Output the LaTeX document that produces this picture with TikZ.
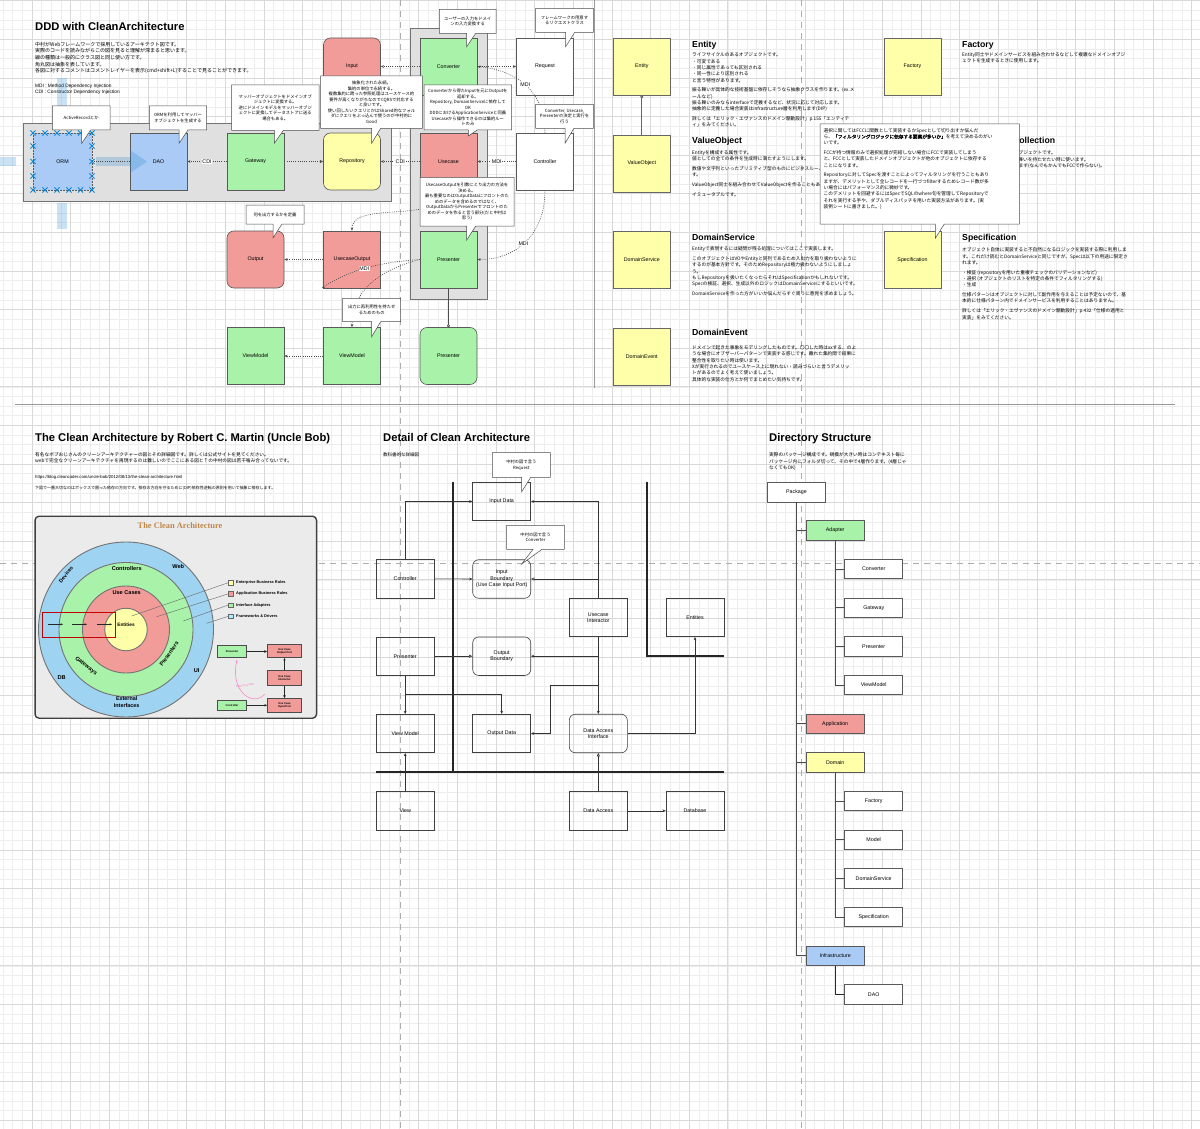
\documentclass[tikz,border=0pt]{standalone}
\usepackage{fontspec}
\setmainfont{Liberation Sans}
\newfontfamily\jp{Noto Sans CJK JP}
\newfontfamily\jpb{Noto Sans CJK JP}[FakeBold=1.6]
\newfontfamily\serifcl{Liberation Serif}
\usetikzlibrary{arrows.meta}

\definecolor{cred}{HTML}{F19C99}
\definecolor{cgreen}{HTML}{A9F2A9}
\definecolor{cyellow}{HTML}{FFFFAA}
\definecolor{cblue}{HTML}{A9CBF5}
\definecolor{cgrey}{HTML}{E0E0E0}
\definecolor{ctitle}{HTML}{C0874A}
\definecolor{cring}{HTML}{9FD3F2}
\definecolor{ccyan}{HTML}{A8EEFF}

\newcommand{\introjp}{\jp\fontsize{5}{6.6}\selectfont}
\newcommand{\bodyjp}{\jp\fontsize{4.7}{6.3}\selectfont}
\newcommand{\calljp}{\jp\fontsize{4.3}{5.5}\selectfont}
\newcommand{\lbl}{\fontsize{5.3}{6.3}\selectfont}
\newcommand{\headf}{\bfseries\fontsize{8.7}{10}\selectfont}
\newcommand{\titlef}{\bfseries\fontsize{11.2}{13}\selectfont}

\tikzset{
  gridmin/.style={draw=black!7, line width=0.4pt},
  gridmaj/.style={draw=black!15, line width=0.5pt},
  pagebrk/.style={draw=black!32, line width=1pt, dash pattern=on 6pt off 5pt},
  box/.style={draw=black!65, line width=0.6pt, minimum width=57pt, minimum height=57pt, inner sep=1pt, font=\lbl},
  rbox/.style={box, rounded corners=7pt},
  dbox/.style={box, draw=black!75, minimum width=58pt, minimum height=38.5pt},
  tbox/.style={box, minimum width=58pt, minimum height=19.3pt},
  dep/.style={draw=black!70, line width=0.6pt, dash pattern=on 0.9pt off 1.3pt, -{Stealth[length=3.2pt,width=2.6pt]}},
  depi/.style={dep, -{Triangle[open,length=3.4pt,width=3.2pt]}},
  flow/.style={draw=black!80, line width=0.6pt, -{Stealth[length=3.2pt,width=2.8pt]}},
  flowi/.style={flow, -{Triangle[open,length=3.4pt,width=3.2pt]}},
  lab/.style={fill=white, inner sep=0.6pt, font=\lbl},
  callout/.style={draw=black!70, fill=white, line width=0.5pt},
  calltext/.style={font=\calljp, align=center, inner sep=0pt},
  txt/.style={anchor=north west, align=left, inner sep=0pt},
  head/.style={anchor=base west, inner sep=0pt, font=\headf},
  thickbar/.style={draw=black!85, line width=1.7pt},
  tree/.style={draw=black!70, line width=0.7pt},
  hover/.style={fill=cyan!60!blue, opacity=0.22},
  ring/.style={circle, draw=black!55, line width=0.9pt},
  ringlbl/.style={font=\bfseries\fontsize{5.6}{6.5}\selectfont},
  legend/.style={anchor=west, inner sep=0pt, font=\bfseries\fontsize{3.9}{4.5}\selectfont},
  mini/.style={draw=black!70, line width=0.5pt, inner sep=0.5pt, align=center, font=\bfseries\fontsize{2.7}{3.1}\selectfont},
}

% speech bubble: name, x1, y1, x2, y2, tail base x, tip x, tip y, text
\newcommand{\callout}[9]{%
  \draw[callout] (#2,#3) -- (#4,#3) -- (#4,#5) -- ({#6+9},#5) -- (#7,#8) -- (#6,#5) -- (#2,#5) -- cycle;
  \node[calltext] (#1) at ({(#2+#4)/2},{(#3+#5)/2}) {#9};}

\begin{document}
\begin{tikzpicture}[x=1pt,y=-1pt]
\useasboundingbox (0,0) rectangle (1200,1129);
\fill[white] (0,0) rectangle (1200,1129);

% grid
\foreach \i in {0,...,125}
  \draw[gridmin] ({-6.65+9.6625*\i},0) -- ++(0,1129);
\foreach \j in {0,...,117}
  \draw[gridmin] (0,{0.7+9.65*\j}) -- ++(1200,0);
\foreach \i in {0,...,31}
  \draw[gridmaj] ({-6.65+38.65*\i},0) -- ++(0,1129);
\foreach \j in {0,...,29}
  \draw[gridmaj] (0,{0.7+38.6*\j}) -- ++(1200,0);

% page breaks and separators
\draw[pagebrk] (400.3,0) -- (400.3,1129);
\draw[pagebrk] (801,0) -- (801,1129);
\draw[pagebrk] (0,563.3) -- (1200,563.3);
\draw[draw=black!40, line width=0.8pt] (15,404) -- (1175,404);
\draw[draw=black!40, line width=0.8pt] (594,0) -- (594,388);

%%%%%%%%%%%%%%%% DDD with CleanArchitecture
\node[anchor=base west, inner sep=0pt, font=\titlef] (ddtitle) at (35,30.5) {DDD with CleanArchitecture};
\node[txt, font=\introjp] (intro) at (35,41.8) {中村がWebフレームワークで採用しているアーキテクト図です。\\
実際のコードを読みながらこの図を見ると理解が深まると思います。\\
線の種類は一般的にクラス図と同じ使い方です。\\
角丸図は抽象を表しています。\\
各図に対するコメントはコメントレイヤーを表示(cmd+shift+L)することで見ることができます。};
\node[txt, font=\fontsize{4.8}{5.8}\selectfont] (mdicdi) at (35,83.6) {MDI : Method Dependency Injection\\CDI : Constructor Dependency Injection};

% containers
\draw[draw=black!55, fill=cgrey, line width=0.6pt] (23.5,123.5) rectangle (391.5,201);
\draw[draw=black!55, fill=cgrey, line width=0.6pt] (410,28) rectangle (487,299);

% hover arrows around ORM
\fill[hover] (0,156.8) rectangle (16,166.4);
\fill[hover] (96,156.8) rectangle (130,166.4);
\fill[hover] (56.8,78) rectangle (66.6,130);
\fill[hover] (56.8,203) rectangle (66.6,229);

% boxes
\node[box, fill=cblue, dash pattern=on 2pt off 1pt, minimum width=59pt] (ORM) at (62.5,161.5) {ORM};
\node[box, fill=cblue] (DAO) at (158.5,161.5) {DAO};
\node[box, fill=cgreen] (Gateway) at (255.5,161.5) {Gateway};
\node[rbox, fill=cyellow] (Repository) at (352,161.5) {Repository};
\node[rbox, fill=cred] (Input) at (352,66.5) {Input};
\node[box, fill=cgreen] (Converter) at (448.5,66.5) {Converter};
\node[box, fill=white] (Request) at (545,66.5) {Request};
\node[box, fill=cred] (Usecase) at (448.5,161.5) {Usecase};
\node[box, fill=white] (Controller) at (545,161.5) {Controller};
\node[rbox, fill=cred] (Output) at (255.5,259.5) {Output};
\node[box, fill=cred] (UsecaseOutput) at (352,259.5) {UsecaseOutput};
\node[box, fill=cgreen] (Presenter) at (448.5,259.5) {Presenter};
\node[box, fill=cgreen] (ViewModel) at (255.5,356) {ViewModel};
\node[box, fill=cgreen] (ViewModelB) at (352,356) {ViewModel};
\node[rbox, fill=cgreen] (PresenterR) at (448.5,356) {Presenter};

\fill[hover] (130,150) -- (147,161.6) -- (130,173) -- cycle;
\foreach \xx in {33,45,57,69,80.5,92} {
  \draw[cyan!70!blue, line width=0.8pt] (\xx,133) +(-2.6,-2.6) -- +(2.6,2.6) +(-2.6,2.6) -- +(2.6,-2.6);
  \draw[cyan!70!blue, line width=0.8pt] (\xx,190) +(-2.6,-2.6) -- +(2.6,2.6) +(-2.6,2.6) -- +(2.6,-2.6);
}
\foreach \yy in {146,161.5,176} {
  \draw[cyan!70!blue, line width=0.8pt] (33,\yy) +(-2.6,-2.6) -- +(2.6,2.6) +(-2.6,2.6) -- +(2.6,-2.6);
  \draw[cyan!70!blue, line width=0.8pt] (92,\yy) +(-2.6,-2.6) -- +(2.6,2.6) +(-2.6,2.6) -- +(2.6,-2.6);
}

% connectors
\draw[dep, -] (DAO.west) -- (ORM.east);
\draw[dep] (Gateway.west) -- node[lab] (cdiA) {CDI} (DAO.east);
\draw[depi] (Gateway.east) -- (Repository.west);
\draw[dep] (Usecase.west) -- node[lab] (cdiB) {CDI} (Repository.east);
\draw[dep] (Converter.west) -- (Input.east);
\draw[dep] (Converter.east) -- (Request.west);
\draw[dep] (Controller.north) .. controls (545,90) and (515,70) .. node[lab, pos=0.5] (mdiA) {MDI} (Converter.east);
\draw[dep] (Controller.west) -- node[lab] (mdiB) {MDI} (Usecase.east);
\draw[dep] (Controller.south) .. controls (545,240) and (510,260) .. node[lab, pos=0.5] (mdiC) {MDI} (Presenter.east);
\draw[dep] (Usecase.south) .. controls (440,225) and (352,200) .. (UsecaseOutput.north);
\draw[dep] (UsecaseOutput.west) -- (Output.east);
\draw[dep] (Presenter.west) .. controls (385,262) and (352,268) .. node[lab, pos=0.55] (mdiD) {MDI} (322,288);
\draw[dep] (Presenter.west) .. controls (380,270) and (352,290) .. (ViewModelB.north);
\draw[dep] (ViewModelB.west) -- (ViewModel.east);
\draw[draw=black!70, line width=0.6pt, -{Circle[open,length=3pt]}] (Presenter.south) -- (PresenterR.north);

% callouts
\callout{cActive}{52.3}{106}{110}{130}{81.7}{81.7}{143.3}{ActiveRecordとか}
\callout{cOrm}{149.3}{106}{206.7}{130}{179}{179}{143.3}{ORMを利用してマッパー\\オブジェクトを生成する}
\callout{cMapper}{231.5}{85}{319}{130.5}{274.3}{274.3}{143.3}{マッパーオブジェクトをドメインオブ\\ジェクトに変換する。\\逆にドメインモデルをマッパーオブジ\\ェクトに変換してデータストアに送る\\場合もある。}
\callout{cRepo}{320.7}{76}{422.3}{128.3}{371.7}{371.7}{143.3}{抽象化された永続。\\集約の単位で永続する。\\複数集約に跨った参照処理はユースケース的\\要件が高くなりがちなのでCQRSで対応する\\と良いです。\\使い回したいクエリとかはShared的なフォル\\ダにクエリをぶっ込んで使うのが中村的に\\Good}
\callout{cUsecase}{424}{85}{511.7}{130}{468.3}{468.3}{136}{Converterから得たInputを元にOutputを\\返却する。\\Repository, DomainServiceに依存して\\OK\\DDDにおけるApplicationServiceと同義\\Usecaseから操作できるのは集約ルー\\トのみ}
\callout{cConv}{439.3}{9.3}{496}{33.3}{466.7}{466.7}{46.7}{ユーザーの入力をドメイ\\ンの入力変換する}
\callout{cReq}{535.7}{8.3}{593.3}{32.3}{565.7}{565.7}{46.7}{フレームワークの用意す\\るリクエストクラス}
\callout{cCtrl}{535.7}{104.3}{593.3}{128.3}{565}{565}{143.3}{Converter, Usecase,\\Presenterの決定と実行を\\行う}
\callout{cOut}{246}{205}{304}{224}{273}{273}{238}{何を出力するかを定義}
\callout{cPres}{420}{177.3}{514}{226}{466.7}{466.7}{240}{UsecaseOutputを引数にとり出力の方法を\\決める。\\最も重要なのはOutputDataにフロントのた\\めのデータを含めるのではなく、\\OutputDataからPresenterでフロントのた\\めのデータを作ると言う部分(だと中村は\\思う)}
\callout{cVm}{342.7}{298.3}{400.7}{321.7}{371.7}{371.7}{336.7}{出力に再利用性を持たせ\\るためのもの}

%%%%%%%%%%%%%%%% building blocks
\node[box, fill=cyellow, draw=black!60] (Entity) at (641.8,66.5) {Entity};
\node[box, fill=cyellow, draw=black!60] (ValueObject) at (641.8,163.5) {ValueObject};
\node[box, fill=cyellow, draw=black!60] (DomainService) at (641.8,260) {DomainService};
\node[box, fill=cyellow, draw=black!60] (DomainEvent) at (641.8,356.5) {DomainEvent};
\node[box, fill=cyellow, draw=black!60] (Factory) at (912.5,66.5) {Factory};
\node[box, fill=cyellow, draw=black!60] (Specification) at (912.5,260) {Specification};
\draw[draw=black!60, line width=0.8pt, {Circle[open,length=3pt]}-] (Entity.south) -- (ValueObject.north);

\node[head] (hEntity) at (692,47.3) {Entity};
\node[txt, font=\bodyjp] (tEntity) at (692,52.6) {ライフサイクルのあるオブジェクトです。\\
・可変である\\
・同じ属性であっても区別される\\
・同一性により区別される\\
と言う特性があります。\\[3.5pt]
振る舞いが具体的な技術基盤に依存しそうなら抽象クラスを作ります。(ex.メ\\
ールなど)\\
振る舞いのみならinterfaceで定義するなど、状況に応じて対応します。\\
抽象的に定義した場合実装はinfrastructure層を利用します(DIP)\\[3.5pt]
詳しくは「エリック・エヴァンスのドメイン駆動設計」p.155「エンティテ\\
ィ」をみてください。};

\node[head] (hVO) at (692,143.3) {ValueObject};
\node[txt, font=\bodyjp] (tVO) at (692,150.4) {Entityを構成する属性です。\\
値としての全ての条件を生成時に満たすようにします。\\[3.5pt]
数値や文字列といったプリミティブ型のものにビジネスルールや制約を持たせま\\
す。\\[3.5pt]
ValueObject同士を組み合わせてValueObjectを作ることもあります。\\[3.5pt]
イミュータブルです。};

\node[head] (hDS) at (692,240) {DomainService};
\node[txt, font=\bodyjp] (tDS) at (692,246.4) {Entityで表現するには疑問が残る処理についてはここで実装します。\\[3.5pt]
このオブジェクトはVOやEntityと同列であるため入出力を取り扱わないように\\
するのが基本方針です。そのためRepositoryは極力扱わないようにしましょ\\
う。\\
もしRepositoryを扱いたくなったらそれはSpecificationかもしれないです。\\
Specの検証、選択、生成以外のロジックはDomainServiceにするといいです。\\[3.5pt]
DomainServiceを作った方がいいか悩んだらすぐ周りに意見を求めましょう。};

\node[head] (hDE) at (692,335.7) {DomainEvent};
\node[txt, font=\bodyjp] (tDE) at (692,345.4) {ドメインで起きた事象をモデリングしたものです。〇〇した時はxxする、のよ\\
うな場合にオブザーバーパターンで実装する感じです。離れた集約間で結果に\\
整合性を取りたい時は使います。\\
Xが実行されるのでユースケース上に現れない・読みづらいと言うデメリッ\\
トがあるのでよく考えて使いましょう。\\
具体的な実装の仕方とか何でまとめたい気持ちです。};

\node[head] (hFac) at (962,47.3) {Factory};
\node[txt, font=\bodyjp] (tFac) at (962,52.2) {Entity同士やドメインサービスを組み合わせるなどして複雑なドメインオブジ\\
ェクトを生成するときに使用します。};

\node[head] (hFcc) at (966,143.3) {First Class Collection};
\node[txt, font=\bodyjp] (tFcc) at (962,150.5) {コレクションを表現するオブジェクトです。\\
コレクションに対して振る舞いを持たせたい時に使います。\\
必要に応じて選択肢に入ります(なんでもかんでもFCCで作らない)。};

\node[head] (hSpec) at (962,240) {Specification};
\node[txt, font=\bodyjp] (tSpec) at (962,247.6) {オブジェクト自体に実装すると不自然になるロジックを実装する際に利用しま\\
す。これだけ読むとDomainServiceと同じですが、Specは以下の用途に限定さ\\
れます。\\[3.5pt]
・検証 (repositoryを用いた重複チェックのバリデーションなど)\\
・選択 (オブジェクトのリストを特定の条件でフィルタリングする)\\
・生成\\[3.5pt]
仕様パターンはオブジェクトに対して副作用を与えることは予定ないので、基\\
本的に仕様パターン内でドメインサービスを利用することはありません。\\[3.5pt]
詳しくは「エリック・エヴァンスのドメイン駆動設計」p.432「仕様の適用と\\
実装」をみてください。};

\draw[callout] (820,124) -- (1019.3,124) -- (1019.3,224) -- (944.3,224) -- (935.3,238.3) -- (935.3,224) -- (820,224) -- cycle;
\node[txt, font=\bodyjp] (cSpec) at (823.5,128) {選択に関してはFCCに関数として実装するかSpecとして切り出すか悩んだ\\
ら、{\jpb「フィルタリングロジックに依存する要素が多いか」}を考えて決めるのがい\\
いです。\\[3.5pt]
FCCが持つ情報のみで選択処理が完結しない場合にFCCで実装してしまう\\
と、FCCとして実装したドメインオブジェクトが他のオブジェクトに依存する\\
ことになります。\\[3.5pt]
Repositoryに対してSpecを渡すことによってフィルタリングを行うこともあり\\
ますが、デメリットとして全レコードを一行づつfilterするためレコード数が多\\
い場合にはパフォーマンス的に微妙です。\\
このデメリットを回避するにはSpecでSQLのwhere句を管理してRepositoryで\\
それを実行する手や、ダブルディスパッチを用いた実装方法があります。(実\\
装例シートに書きました。)};

%%%%%%%%%%%%%%%% The Clean Architecture
\node[anchor=base west, inner sep=0pt, font=\titlef] (catitle) at (35,441.5) {The Clean Architecture by Robert C. Martin (Uncle Bob)};
\node[txt, font=\bodyjp] (catext) at (35,452.3) {有名なボブおじさんのクリーンアーキテクチャーの図とその詳細図です。詳しくは公式サイトを見てください。\\
webで完全なクリーンアーキテクチャを再現するのは難しいのでここにある図と↑の中村の図は若干噛み合ってないです。};
\node[txt, font=\fontsize{4.3}{5}\selectfont] (caurl) at (35,474.8) {https://blog.cleancoder.com/uncle-bob/2012/08/13/the-clean-architecture.html};
\node[txt, font=\jp\fontsize{4}{5}\selectfont] (canote) at (35,486) {下図で一番大切なのはボックスで囲った依存の方向です。依存の方向を守るために(DIP)依存性逆転の原則を用いて抽象に依存します。};

\node[draw=black!75, line width=1.4pt, rounded corners=4pt, fill=black!8, minimum width=281.5pt, minimum height=202pt, inner sep=0pt] (caimg) at (175.8,617.2) {};
\node[font=\serifcl\bfseries\fontsize{8.4}{9}\selectfont, text=ctitle] (caname) at (180,525.5) {The Clean Architecture};
\node[ring, fill=cring, minimum size=175pt] (rFw) at (126,629.5) {};
\node[ring, fill=cgreen, minimum size=134pt] (rIa) at (126,629.5) {};
\node[ring, fill=cred, minimum size=87pt] (rUc) at (126,629.5) {};
\node[ring, fill=cyellow, minimum size=42.5pt] (rEn) at (126,629.5) {};
\node[ringlbl] (lCtrl) at (126.7,568.3) {Controllers};
\node[ringlbl] (lUc) at (126.7,592.3) {Use Cases};
\node[ringlbl, font=\bfseries\fontsize{4.8}{5.5}\selectfont] (lEn) at (126,624.5) {Entities};
\node[ringlbl] (lWeb) at (178.3,566.5) {Web};
\node[ringlbl, rotate=52, inner sep=0pt, font=\bfseries\fontsize{5.2}{6}\selectfont] (lDev) at (66,574.5) {Devices};
\node[ringlbl, rotate=-38, inner sep=0pt] (lGw) at (86,666) {Gateways};
\node[ringlbl, rotate=55, inner sep=0pt] (lPres) at (169,654) {Presenters};
\node[ringlbl] (lDb) at (61.7,677.5) {DB};
\node[ringlbl] (lUi) at (196.7,671) {UI};
\node[ringlbl, align=center, font=\bfseries\fontsize{5.4}{6.3}\selectfont] (lExt) at (126.7,702) {External\\Interfaces};
\draw[draw=red!75!black, line width=0.8pt] (42.7,612.7) rectangle (115,637.3);
\foreach \ax in {48,72,97}
  \draw[draw=black!85, line width=0.5pt, -{Stealth[length=2.5pt,width=2pt]}] (\ax,624.3) -- ++(15,0);

\node[draw=black!60, fill=cyellow, minimum size=4.6pt, inner sep=0pt] (sqE) at (230.8,582.7) {};
\node[draw=black!60, fill=cred, minimum size=4.6pt, inner sep=0pt] (sqA) at (230.8,593.8) {};
\node[draw=black!60, fill=cgreen, minimum size=4.6pt, inner sep=0pt] (sqI) at (230.8,605) {};
\node[draw=black!60, fill=ccyan, minimum size=4.6pt, inner sep=0pt] (sqF) at (230.8,616.3) {};
\node[legend] at (236,582.7) {Enterprise Business Rules};
\node[legend] at (236,593.8) {Application Business Rules};
\node[legend] at (236,605) {Interface Adapters};
\node[legend] at (236,616.3) {Frameworks \& Drivers};
\draw[draw=black!60, line width=0.4pt] (131.7,616) -- (sqE.west);
\draw[draw=black!60, line width=0.4pt] (156.7,616.7) -- (sqA.west);
\draw[draw=black!60, line width=0.4pt] (183.3,621) -- (sqI.west);
\draw[draw=black!60, line width=0.4pt] (206.7,623.3) -- (sqF.west);

\node[mini, fill=cgreen, minimum width=29.4pt, minimum height=11.6pt] (mPres) at (232,651.5) {Presenter};
\node[mini, fill=cred, minimum width=34.4pt, minimum height=13.4pt] (mOut) at (284.5,651) {Use Case\\Output Port};
\node[mini, fill=cred, minimum width=34.4pt, minimum height=15pt] (mInt) at (284.5,678.2) {Use Case\\Interactor};
\node[mini, fill=cgreen, minimum width=29.4pt, minimum height=10.7pt] (mCtrl) at (232,705.3) {Controller};
\node[mini, fill=cred, minimum width=34.4pt, minimum height=14pt] (mIn) at (284.5,705.3) {Use Case\\Input Port};
\draw[draw=black!85, line width=0.6pt, -{Triangle[open,length=2.6pt,width=2.6pt]}] (mPres.east) -- (mOut.west |- mPres.east);
\draw[draw=black!85, line width=0.6pt, -{Stealth[length=2.6pt,width=2.4pt]}] (mInt.north) -- (mOut.south);
\draw[draw=black!85, line width=0.6pt, -{Triangle[open,length=2.6pt,width=2.6pt]}] (mInt.south) -- (mIn.north);
\draw[draw=black!85, line width=0.6pt, -{Stealth[length=2.6pt,width=2.4pt]}] (mCtrl.east) -- (mIn.west);
\draw[draw=magenta!45, line width=0.6pt, -{Stealth[length=2.4pt,width=2.2pt]}] (265,694) .. controls (252,708) and (230,690) .. (237,660);
\node[text=magenta!55, font=\fontsize{2.8}{3}\selectfont, rotate=8] (mFlow) at (245,685.5) {Flow of control};

%%%%%%%%%%%%%%%% Detail of Clean Architecture
\node[anchor=base west, inner sep=0pt, font=\titlef] (dtitle) at (383,441.5) {Detail of Clean Architecture};
\node[txt, font=\jp\fontsize{4.5}{5.5}\selectfont] (dtext) at (383,452.8) {教科書的な詳細図};

\draw[thickbar] (453.3,482.3) -- (453.3,772.3);
\draw[thickbar] (646.7,482.3) -- (646.7,656) -- (724,656);
\draw[thickbar] (376,772.3) -- (724,772.3);

\node[dbox] (inData) at (501.7,501.5) {Input Data};
\node[dbox] (ctrlD) at (405.2,578.8) {Controller};
\node[dbox, rounded corners=6pt, align=center] (inBnd) at (501.7,579) {Input\\Boundary\\(Use Case Input Port)};
\node[dbox, align=center] (uInt) at (598.3,617.5) {Usecase\\Interactor};
\node[dbox] (entD) at (695,617.5) {Entities};
\node[dbox] (presD) at (405.2,656.2) {Presenter};
\node[dbox, rounded corners=6pt, align=center] (outBnd) at (501.7,656.2) {Output\\Boundary};
\node[dbox] (vmD) at (405.2,733.5) {View Model};
\node[dbox] (outData) at (501.7,733.5) {Output Data};
\node[dbox, rounded corners=6pt, align=center] (dai) at (598.3,733.5) {Data Access\\Interface};
\node[dbox] (viewD) at (405.2,810.8) {View};
\node[dbox] (daD) at (598.3,810.8) {Data Access};
\node[dbox] (dbD) at (695,810.8) {Database};

\coordinate (jOut) at (598.3,685);
\coordinate (jOutB) at (550.5,685);
\coordinate (jPres) at (405.2,694.3);
\draw[flow] (ctrlD.north) |- (inData.west);
\draw[flow] (ctrlD.east) -- (inBnd.west);
\draw[flow] (uInt.north) |- (inData.east);
\draw[flowi] (uInt.north |- inBnd.east) -- (inBnd.east);
\draw[flowi] (presD.east) -- (outBnd.west);
\draw[flow] (uInt.south) -- (dai.north);
\draw[flow] (uInt.south |- outBnd.east) -- (outBnd.east);
\draw[flow] (jOut) -- (jOutB) |- (outData.east);
\draw[flow] (presD.south) -- (vmD.north);
\draw[flow] (jPres) -| (outData.north);
\draw[flow] (viewD.north) -- (vmD.south);
\draw[flowi] (daD.north) -- (dai.south);
\draw[flow] (daD.east) -- (dbD.west);
\draw[flow] (dai.east) -| (entD.south);

\callout{cReqD}{492.3}{452.7}{550.3}{477.3}{521.7}{521.7}{491.7}{中村の図で言う\\Request}
\callout{cConvD}{506.7}{525.3}{564.3}{549.3}{533}{521.7}{564}{中村の図で言う\\Converter}

%%%%%%%%%%%%%%%% Directory Structure
\node[anchor=base west, inner sep=0pt, font=\titlef] (dirtitle) at (769,441.5) {Directory Structure};
\node[txt, font=\bodyjp] (dirtext) at (769,452.6) {実際のパッケージ構成です。規模が大きい時はコンテキスト毎に\\
パッケージ内にフォルダ切って、その中で4層作ります。(4層じゃ\\
なくてもOK)};

\node[tbox, fill=white] (pkg) at (796.5,492.2) {Package};
\node[tbox, fill=cgreen] (adp) at (835.2,530.3) {Adapter};
\node[tbox, fill=white] (convT) at (873.7,569) {Converter};
\node[tbox, fill=white] (gwT) at (873.7,607.7) {Gateway};
\node[tbox, fill=white] (presT) at (873.7,646.3) {Presenter};
\node[tbox, fill=white] (vmT) at (873.7,685) {ViewModel};
\node[tbox, fill=cred] (app) at (835.2,723.7) {Application};
\node[tbox, fill=cyellow] (dom) at (835.2,762.3) {Domain};
\node[tbox, fill=white] (facT) at (873.7,801) {Factory};
\node[tbox, fill=white] (modT) at (873.7,839.7) {Model};
\node[tbox, fill=white] (dsT) at (873.7,878.3) {DomainService};
\node[tbox, fill=white] (specT) at (873.7,917) {Specification};
\node[tbox, fill=cblue] (infra) at (835.2,955.7) {Infrastructure};
\node[tbox, fill=white] (daoT) at (873.7,994.3) {DAO};

\draw[tree] (pkg.south) |- (infra.west);
\foreach \n in {adp,app,dom}
  \draw[tree] (pkg.south |- \n.west) -- (\n.west);
\draw[tree] (adp.south) |- (vmT.west);
\foreach \n in {convT,gwT,presT}
  \draw[tree] (adp.south |- \n.west) -- (\n.west);
\draw[tree] (dom.south) |- (specT.west);
\foreach \n in {facT,modT,dsT}
  \draw[tree] (dom.south |- \n.west) -- (\n.west);
\draw[tree, line width=1.3pt, draw=black!85] (infra.south) |- (daoT.west);

\end{tikzpicture}
\end{document}
